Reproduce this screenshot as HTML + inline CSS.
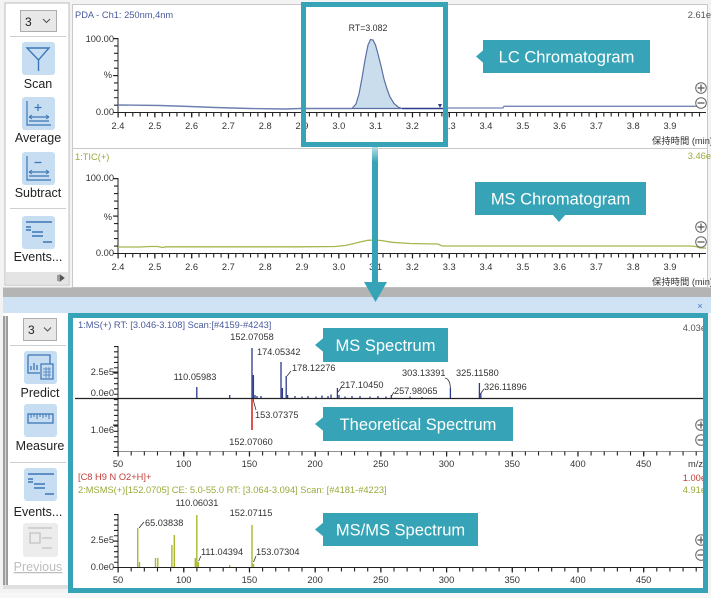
<!DOCTYPE html>
<html><head><meta charset="utf-8"><style>
html,body{margin:0;padding:0;background:#f3f3f3;}
svg{display:block;}
text{font-family:"Liberation Sans","Noto Sans CJK JP",sans-serif;}
.ax{font-size:9.3px;fill:#333;}
.pk{font-size:9.2px;fill:#333;}
.sb{font-size:12.5px;fill:#222;}
.co{font-size:16.5px;fill:#fff;}
</style></head><body>
<svg width="711" height="598" viewBox="0 0 711 598" xmlns="http://www.w3.org/2000/svg">
<defs>
<linearGradient id="ag" x1="0" y1="147" x2="0" y2="300" gradientUnits="userSpaceOnUse">
<stop offset="0" stop-color="#b6dee5"/><stop offset="0.1" stop-color="#36a4b6"/><stop offset="1" stop-color="#36a4b6"/>
</linearGradient>
</defs>
<rect x="0" y="0" width="711" height="598" fill="#f3f3f3"/>
<!-- top sidebar -->
<rect x="5" y="3" width="64" height="282" fill="#fff" stroke="#bdbdbd" stroke-width="1"/>
<rect x="20.5" y="10.5" width="36" height="21" fill="#e8e8e8" stroke="#adadad"/>
<text x="25" y="26" style="font-size:12px;fill:#222">3</text>
<polyline points="43,19 46.5,22.5 50,19" fill="none" stroke="#555" stroke-width="1.1"/>
<line x1="10" y1="36.5" x2="66" y2="36.5" stroke="#cfcfcf"/>
<rect x="22" y="42" width="33" height="33" rx="3" fill="#c6ddf2"/>
<path d="M27,48 L49,48 L38.5,60 Z M38.5,60 V71" fill="none" stroke="#3d76b6" stroke-width="1.4"/>
<text class="sb" x="38" y="88" text-anchor="middle">Scan</text>
<rect x="22" y="97" width="33" height="33" rx="3" fill="#c6ddf2"/>
<path d="M27,101 V125 H51 M38,104 V111 M34.5,107.5 H41.5 M29,117 H49 M29,121 H49" fill="none" stroke="#3d76b6" stroke-width="1.2" stroke-dasharray="none"/>
<path d="M29,117 l3,-2 M29,117 l3,2 M49,117 l-3,-2 M49,117 l-3,2" stroke="#3d76b6" stroke-width="1"/>
<text class="sb" x="38" y="142" text-anchor="middle">Average</text>
<rect x="22" y="152" width="33" height="33" rx="3" fill="#c6ddf2"/>
<path d="M27,156 V180 H51 M34.5,162.5 H41.5 M29,172 H49 M29,176 H49" fill="none" stroke="#3d76b6" stroke-width="1.2"/>
<path d="M29,172 l3,-2 M29,172 l3,2 M49,172 l-3,-2 M49,172 l-3,2" stroke="#3d76b6" stroke-width="1"/>
<text class="sb" x="38" y="197" text-anchor="middle">Subtract</text>
<line x1="10" y1="208.5" x2="66" y2="208.5" stroke="#cfcfcf"/>
<rect x="22" y="216" width="33" height="33" rx="3" fill="#c6ddf2"/>
<path d="M26,222 H52 M26,227 H31 M26,230 H31 M32,232 H43 M32,236 H43 M43,242 H52" fill="none" stroke="#3d76b6" stroke-width="1.4"/>
<text class="sb" x="38" y="261" text-anchor="middle">Events...</text>
<rect x="6" y="272" width="62" height="12" fill="#e4e4e4"/>
<path d="M58,275 V281 M60,275 L64,278 L60,281 Z" stroke="#555" fill="#555" stroke-width="1"/>

<!-- chart 1 panel -->
<rect x="72.5" y="4.5" width="635" height="144" fill="#fff" stroke="#c8c8c8"/>
<text x="75" y="18" style="font-size:9.3px;fill:#4a5a9c">PDA - Ch1: 250nm,4nm</text>
<text x="711" y="18" text-anchor="end" style="font-size:9.3px;fill:#555">2.61e</text>
<text x="368" y="31" text-anchor="middle" style="font-size:8.8px;fill:#333">RT=3.082</text>
<!-- axes -->
<line x1="118" y1="38" x2="118" y2="112.5" stroke="#222" stroke-width="1"/>
<line x1="118" y1="112.5" x2="706" y2="112.5" stroke="#222" stroke-width="1"/>
<line x1="116" y1="38" x2="116" y2="113" stroke="#222" stroke-width="4" stroke-dasharray="1.1 6.3"/>
<line x1="115.5" y1="38" x2="115.5" y2="113" stroke="#222" stroke-width="5" stroke-dasharray="1.1 35.9"/>
<line x1="117.5" y1="114.5" x2="706" y2="114.5" stroke="#222" stroke-width="4" stroke-dasharray="1.1 6.26"/>
<line x1="117.5" y1="115" x2="706" y2="115" stroke="#222" stroke-width="5" stroke-dasharray="1.2 35.6"/>
<text class="ax" x="114" y="42" text-anchor="end">100.00</text>
<text class="ax" x="112" y="78" text-anchor="end">%</text>
<text class="ax" x="114" y="115" text-anchor="end">0.00</text>
<g class="ax" text-anchor="middle">
<text x="118" y="129">2.4</text><text x="154.8" y="129">2.5</text><text x="191.6" y="129">2.6</text><text x="228.4" y="129">2.7</text><text x="265.2" y="129">2.8</text><text x="302" y="129">2.9</text><text x="338.8" y="129">3.0</text><text x="375.6" y="129">3.1</text><text x="412.4" y="129">3.2</text><text x="449.2" y="129">3.3</text><text x="486" y="129">3.4</text><text x="522.8" y="129">3.5</text><text x="559.6" y="129">3.6</text><text x="596.4" y="129">3.7</text><text x="633.2" y="129">3.8</text><text x="670" y="129">3.9</text>
</g>
<text class="ax" x="713" y="144" text-anchor="end">保持時間 (min)</text>
<!-- chart1 data -->
<path d="M352,108.5 L356,104 L359,94 L362,78 L365,60 L368,45 L370.5,39.5 L373,40 L375.5,45 L378,54 L381,66 L384,79 L387,89 L390,97 L394,103.5 L398,107 L402,108.5 Z" fill="#c9dded" stroke="#5c6fa3" stroke-width="1.2"/>
<path d="M118,105 L160,105.5 L190,106.5 L215,107.5 L250,108.5 L285,109 L300,108.5 L352,108.5" fill="none" stroke="#6c7fb0" stroke-width="1.4"/>
<path d="M402,108.5 L445,108.5" fill="none" stroke="#2d3d8c" stroke-width="1.6"/>
<path d="M445,108 L503,108 L504,106.3 L706,106.3" fill="none" stroke="#7385b4" stroke-width="1.3"/>
<path d="M438,104 L442,104 L440,108 Z" fill="#2d3d8c"/>
<g fill="#fff" stroke="#666" stroke-width="1">
<circle cx="701" cy="88" r="5.3"/><circle cx="701" cy="103" r="5.3"/>
</g>
<path d="M697.5,88 H704.5 M701,84.5 V91.5 M697.5,103 H704.5" stroke="#555" stroke-width="1.2"/>

<!-- chart 2 panel -->
<rect x="72.5" y="148.5" width="635" height="139" fill="#fff" stroke="#c8c8c8"/>
<text x="75" y="160" style="font-size:9.3px;fill:#9aaa3c">1:TIC(+)</text>
<text x="711" y="159" text-anchor="end" style="font-size:9.3px;fill:#9aaa3c">3.46e</text>
<line x1="118" y1="178" x2="118" y2="253.5" stroke="#222"/>
<line x1="118" y1="253.5" x2="706" y2="253.5" stroke="#222"/>
<line x1="116" y1="178" x2="116" y2="254" stroke="#222" stroke-width="4" stroke-dasharray="1.1 6.4"/>
<line x1="115.5" y1="178" x2="115.5" y2="254" stroke="#222" stroke-width="5" stroke-dasharray="1.1 36.4"/>
<line x1="117.5" y1="255.5" x2="706" y2="255.5" stroke="#222" stroke-width="4" stroke-dasharray="1.1 6.26"/>
<line x1="117.5" y1="256" x2="706" y2="256" stroke="#222" stroke-width="5" stroke-dasharray="1.2 35.6"/>
<text class="ax" x="114" y="181" text-anchor="end">100.00</text>
<text class="ax" x="112" y="220" text-anchor="end">%</text>
<text class="ax" x="114" y="256" text-anchor="end">0.00</text>
<g class="ax" text-anchor="middle">
<text x="118" y="270">2.4</text><text x="154.8" y="270">2.5</text><text x="191.6" y="270">2.6</text><text x="228.4" y="270">2.7</text><text x="265.2" y="270">2.8</text><text x="302" y="270">2.9</text><text x="338.8" y="270">3.0</text><text x="375.6" y="270">3.1</text><text x="412.4" y="270">3.2</text><text x="449.2" y="270">3.3</text><text x="486" y="270">3.4</text><text x="522.8" y="270">3.5</text><text x="559.6" y="270">3.6</text><text x="596.4" y="270">3.7</text><text x="633.2" y="270">3.8</text><text x="670" y="270">3.9</text>
</g>
<text class="ax" x="713" y="285" text-anchor="end">保持時間 (min)</text>
<path d="M118,247 L140,247 L150,246.5 L158,246.5 L162,247.5 L166,246.8 L200,246.8 L300,246.8 L335,246.5 L345,245.5 L352,244 L360,242 L368,240.3 L375,240 L382,240.6 L392,242.3 L410,243.5 L438,244 L442,246 L690,246 L696,246.5 L700,248 L706,248" fill="none" stroke="#a9b64e" stroke-width="1.3"/>
<g fill="#fff" stroke="#666" stroke-width="1">
<circle cx="701" cy="227" r="5.3"/><circle cx="701" cy="242" r="5.3"/>
</g>
<path d="M697.5,227 H704.5 M701,223.5 V230.5 M697.5,242 H704.5" stroke="#555" stroke-width="1.2"/>

<!-- splitter -->
<rect x="3" y="287.5" width="708" height="9.5" fill="#b4b4b4"/>
<rect x="3" y="297" width="708" height="16" fill="#cfe3f5"/>
<text x="700" y="309" text-anchor="middle" style="font-size:9px;fill:#3b73c4">×</text>

<!-- top teal frame -->
<rect x="303.5" y="4.5" width="142" height="140" fill="none" stroke="#36a4b6" stroke-width="5"/>
<!-- arrow -->
<rect x="372" y="147" width="6" height="137" fill="url(#ag)"/>
<polygon points="364,282 387,282 375.5,302" fill="#36a4b6"/>

<!-- callouts top -->
<rect x="483" y="40" width="167" height="33" fill="#36a4b6"/>
<polygon points="476,56.5 484,49.5 484,63.5" fill="#36a4b6"/>
<text class="co" x="566.5" y="62.5" text-anchor="middle">LC Chromatogram</text>
<rect x="475" y="182" width="171" height="33" fill="#36a4b6"/>
<polygon points="552,214 566,214 559,222" fill="#36a4b6"/>
<text class="co" x="560.5" y="204.5" text-anchor="middle">MS Chromatogram</text>

<!-- bottom sidebar -->
<rect x="3" y="313" width="66" height="276" fill="#fff"/>
<rect x="3" y="316" width="5" height="272" fill="#9c9c9c"/>
<rect x="5" y="316" width="1" height="272" fill="#d8d8d8"/>
<rect x="23.5" y="318.5" width="33" height="22" fill="#e8e8e8" stroke="#adadad"/>
<text x="28" y="334" style="font-size:12px;fill:#222">3</text>
<polyline points="44,327.5 47.5,331 51,327.5" fill="none" stroke="#555" stroke-width="1.1"/>
<line x1="10" y1="345.5" x2="66" y2="345.5" stroke="#cfcfcf"/>
<rect x="24" y="351" width="33" height="33" rx="3" fill="#c6ddf2"/>
<path d="M28,355 H50 V364 M28,355 V373 H40 M31,370 V366 M34,370 V363 M37,370 V365" fill="none" stroke="#3d76b6" stroke-width="1.3"/>
<rect x="41" y="364" width="12" height="15" fill="#c6ddf2" stroke="#3d76b6" stroke-width="1.2"/>
<path d="M43,369 H51 M43,372 H51 M43,375 H51 M46,367 V378 M49,367 V378" stroke="#3d76b6" stroke-width="0.7"/>
<text class="sb" x="40" y="397" text-anchor="middle">Predict</text>
<rect x="24" y="404" width="33" height="33" rx="3" fill="#c6ddf2"/>
<rect x="28" y="414" width="25" height="9" fill="none" stroke="#3d76b6" stroke-width="1.3"/>
<path d="M31,414 V418 M34,414 V417 M37,414 V419 M40,414 V417 M43,414 V418 M46,414 V417 M49,414 V419" stroke="#3d76b6" stroke-width="1"/>
<text class="sb" x="40" y="450" text-anchor="middle">Measure</text>
<line x1="10" y1="462.5" x2="66" y2="462.5" stroke="#cfcfcf"/>
<rect x="24" y="468" width="33" height="33" rx="3" fill="#c6ddf2"/>
<path d="M28,474 H54 M28,479 H33 M28,482 H33 M34,484 H45 M34,488 H45 M45,494 H54" fill="none" stroke="#3d76b6" stroke-width="1.4"/>
<text class="sb" x="38" y="516" text-anchor="middle">Events...</text>
<rect x="23" y="523" width="35" height="34" rx="3" fill="#ececec"/>
<path d="M28,528 H52 M30,533 H40 V543 H30 Z M42,538 H52 M42,548 H52" fill="none" stroke="#b8b8b8" stroke-width="1.1"/>
<text x="38" y="571" text-anchor="middle" style="font-size:12.5px;fill:#bdbdbd;text-decoration:underline">Previous</text>
<rect x="3" y="585" width="66" height="4" fill="#e0e0e0"/>

<!-- bottom chart area -->
<rect x="70" y="315" width="636" height="276" fill="#fff"/>
<text x="78" y="328" style="font-size:9.3px;fill:#4a5a9c">1:MS(+)  RT: [3.046-3.108]  Scan:[#4159-#4243]</text>
<text x="706" y="331" text-anchor="end" style="font-size:9.3px;fill:#555">4.03e</text>
<!-- MS axes -->
<line x1="118" y1="346" x2="118" y2="451.5" stroke="#222"/>
<line x1="116" y1="346" x2="116" y2="452" stroke="#222" stroke-width="4" stroke-dasharray="1.1 4.2"/>
<line x1="115.5" y1="371.5" x2="115.5" y2="452" stroke="#222" stroke-width="5" stroke-dasharray="1.1 25.4"/>
<line x1="75" y1="398.5" x2="703" y2="398.5" stroke="#222" stroke-width="1.2"/>
<line x1="118" y1="451.5" x2="703" y2="451.5" stroke="#222" stroke-width="0.6"/>
<line x1="117.5" y1="453.5" x2="703" y2="453.5" stroke="#222" stroke-width="4" stroke-dasharray="1.1 12.04"/>
<line x1="117.5" y1="454" x2="703" y2="454" stroke="#222" stroke-width="5" stroke-dasharray="1.2 64.5"/>
<text class="ax" x="114" y="375" text-anchor="end">2.5e5</text>
<text class="ax" x="114" y="396" text-anchor="end">0.0e0</text>
<text class="ax" x="114" y="433" text-anchor="end">1.0e6</text>
<g class="ax" text-anchor="middle">
<text x="118" y="467">50</text><text x="183.7" y="467">100</text><text x="249.4" y="467">150</text><text x="315.1" y="467">200</text><text x="380.8" y="467">250</text><text x="446.5" y="467">300</text><text x="512.2" y="467">350</text><text x="577.9" y="467">400</text><text x="643.6" y="467">450</text>
</g>
<text class="ax" x="688" y="467">m/z</text>
<!-- MS peaks -->
<path d="M196.8,398V387 M229.7,398V395 M252,398V348 M253.4,398V375 M255,398V395 M257,398V396 M261,398V396 M281,398V362 M282.4,398V388 M286.2,398V376 M287.6,398V395 M295,398V396 M302,398V396.5 M308,398V396 M316,398V396.5 M322,398V395.5 M328,398V396 M331,398V394.5 M337.4,398V388 M339,398V395 M345,398V396.5 M352,398V396 M360,398V396 M370,398V396.5 M378,398V396 M386,398V396.5 M391.3,398V395 M410,398V396.5 M422,398V397 M450.4,398V388 M479.4,398V383 M480.8,398V393" fill="none" stroke="#2c3a8c" stroke-width="1.3"/>
<path d="M252,399V430" stroke="#d62b2b" stroke-width="1.6"/>
<path d="M253.5,399V401" stroke="#d62b2b" stroke-width="1"/>
<!-- MS labels -->
<g class="pk">
<text x="252" y="340" text-anchor="middle">152.07058</text>
<text x="257" y="355">174.05342</text>
<text x="292" y="371">178.12276</text>
<text x="195" y="380" text-anchor="middle">110.05983</text>
<text x="340" y="388">217.10450</text>
<text x="402" y="376">303.13391</text>
<text x="456" y="376">325.11580</text>
<text x="394" y="394">257.98065</text>
<text x="484" y="390">326.11896</text>
<text x="255" y="418">153.07375</text>
<text x="251" y="445" text-anchor="middle">152.07060</text>
</g>
<path d="M287,376 L291,371 M338,392 L341,388 M391.5,396 L394,392 M445,378 Q450,379 450.4,388 M481,393 L484,389 M253.5,401 L256,410" fill="none" stroke="#333" stroke-width="0.8"/>
<g fill="#fff" stroke="#666" stroke-width="1">
<circle cx="701" cy="425" r="5.3"/><circle cx="701" cy="440" r="5.3"/>
</g>
<path d="M697.5,425 H704.5 M701,421.5 V428.5 M697.5,440 H704.5" stroke="#555" stroke-width="1.2"/>

<!-- MS/MS -->
<text x="78" y="480" style="font-size:9.3px;fill:#c0403a">[C8 H9 N O2+H]+</text>
<text x="706" y="481" text-anchor="end" style="font-size:9.3px;fill:#c0403a">1.00e</text>
<text x="78" y="493" style="font-size:9.3px;fill:#9aaa3c">2:MSMS(+)[152.0705]  CE: 5.0-55.0  RT: [3.064-3.094]  Scan: [#4181-#4223]</text>
<text x="706" y="493" text-anchor="end" style="font-size:9.3px;fill:#9aaa3c">4.91e</text>
<line x1="118" y1="514" x2="118" y2="567.5" stroke="#222"/>
<line x1="116" y1="514" x2="116" y2="568" stroke="#222" stroke-width="4" stroke-dasharray="1.1 4.2"/>
<line x1="115.5" y1="540.5" x2="115.5" y2="568" stroke="#222" stroke-width="5" stroke-dasharray="1.1 25.4"/>
<line x1="118" y1="567.5" x2="703" y2="567.5" stroke="#222"/>
<line x1="117.5" y1="569.5" x2="703" y2="569.5" stroke="#222" stroke-width="4" stroke-dasharray="1.1 12.04"/>
<line x1="117.5" y1="570" x2="703" y2="570" stroke="#222" stroke-width="5" stroke-dasharray="1.2 64.5"/>
<text class="ax" x="114" y="543" text-anchor="end">2.5e5</text>
<text class="ax" x="114" y="570" text-anchor="end">0.0e0</text>
<g class="ax" text-anchor="middle">
<text x="118" y="583">50</text><text x="183.7" y="583">100</text><text x="249.4" y="583">150</text><text x="315.1" y="583">200</text><text x="380.8" y="583">250</text><text x="446.5" y="583">300</text><text x="512.2" y="583">350</text><text x="577.9" y="583">400</text><text x="643.6" y="583">450</text>
</g>
<path d="M137.7,567V528 M139.5,567V562 M155.5,567V558 M157.8,567V558 M171.9,567V545 M174.3,567V535 M195.3,567V558 M196.8,567V515 M198.3,567V562 M229.7,567V565 M252,567V525 M253.5,567V564" fill="none" stroke="#a9b82e" stroke-width="1.4"/>
<g class="pk">
<text x="197" y="506" text-anchor="middle">110.06031</text>
<text x="251" y="516" text-anchor="middle">152.07115</text>
<text x="145" y="526">65.03838</text>
<text x="201" y="555">111.04394</text>
<text x="256" y="555">153.07304</text>
</g>
<path d="M139,528 L144,522 M198.6,561 L201,556 M253.6,562 L256,556" fill="none" stroke="#333" stroke-width="0.8"/>
<g fill="#fff" stroke="#666" stroke-width="1">
<circle cx="701" cy="540" r="5.3"/><circle cx="701" cy="555" r="5.3"/>
</g>
<path d="M697.5,540 H704.5 M701,536.5 V543.5 M697.5,555 H704.5" stroke="#555" stroke-width="1.2"/>

<!-- bottom callouts -->
<rect x="323" y="328" width="125" height="34" fill="#36a4b6"/>
<polygon points="315,345 324,337.5 324,352.5" fill="#36a4b6"/>
<text class="co" x="385.5" y="351" text-anchor="middle">MS Spectrum</text>
<rect x="323" y="407" width="190" height="34" fill="#36a4b6"/>
<polygon points="315,424 324,416.5 324,431.5" fill="#36a4b6"/>
<text class="co" x="418" y="430" text-anchor="middle">Theoretical Spectrum</text>
<rect x="323" y="513" width="155" height="33" fill="#36a4b6"/>
<polygon points="315,529.5 324,522 324,537" fill="#36a4b6"/>
<text class="co" x="400.5" y="535.5" text-anchor="middle">MS/MS Spectrum</text>

<!-- bottom teal frame -->
<rect x="70.5" y="315.5" width="635" height="275" fill="none" stroke="#36a4b6" stroke-width="5"/>
<rect x="0" y="593" width="711" height="5" fill="#f7f7f7"/>
</svg>
</body></html>
